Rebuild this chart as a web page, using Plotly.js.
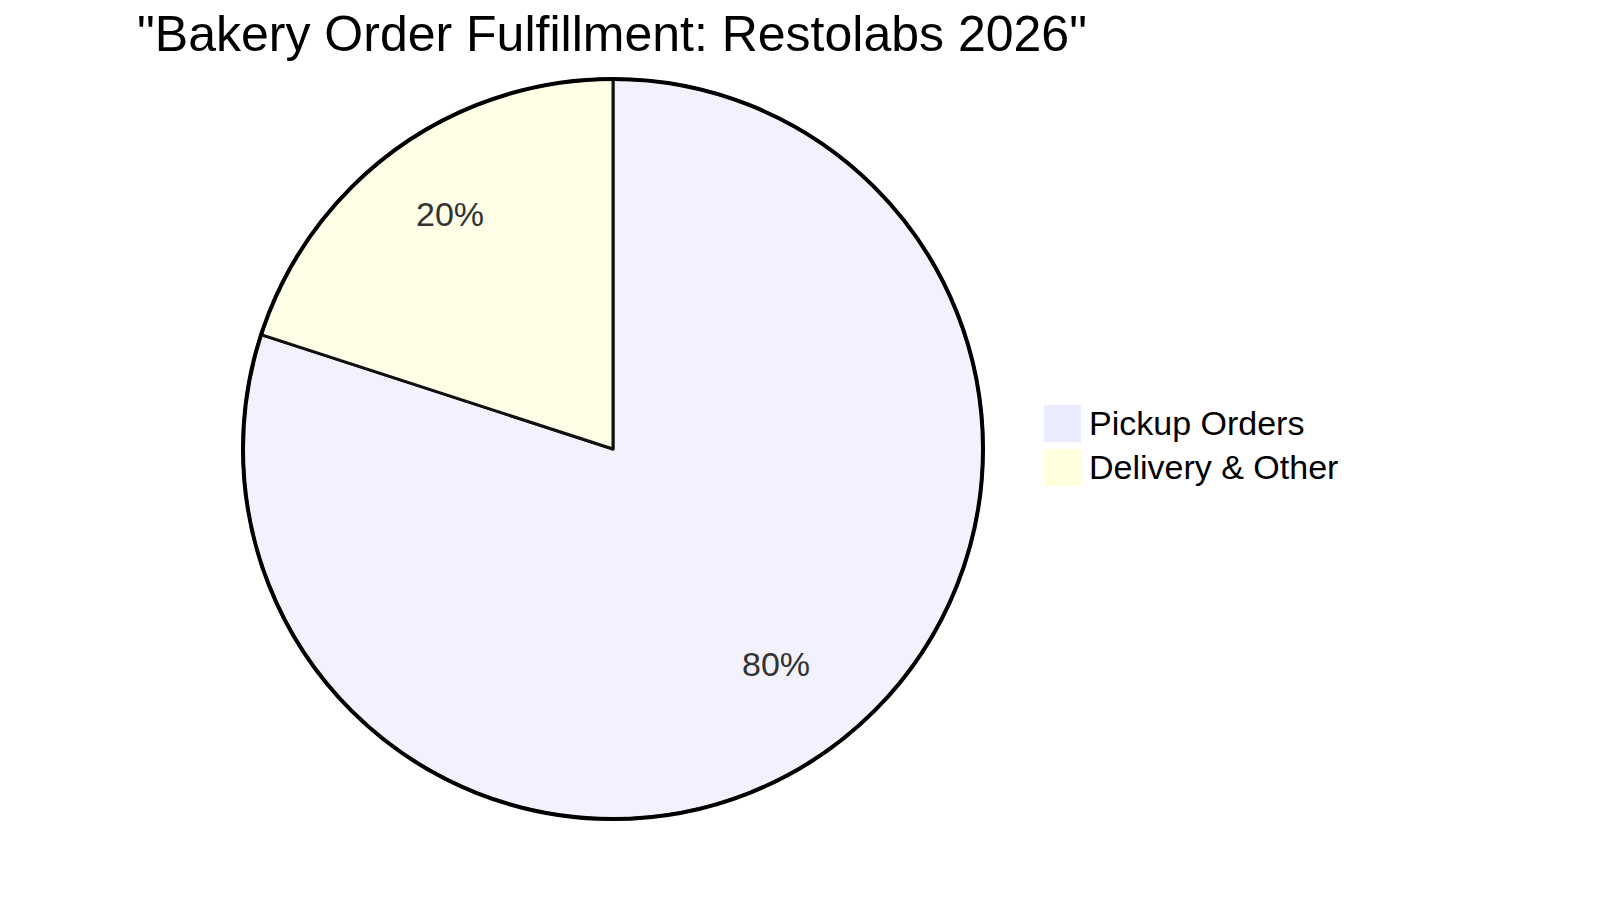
<!DOCTYPE html>
<html>
<head>
<meta charset="utf-8">
<script src="https://cdn.plot.ly/plotly-3.0.1.min.js"></script>
<style>
  html, body { margin: 0; padding: 0; background: #ffffff; }
  #chart { width: 1600px; height: 900px; }
</style>
</head>
<body>
<div id="chart"></div>
<script>
'use strict';

/* ============================================================
   DATA
   ============================================================ */
var chartTitle   = '"Bakery Order Fulfillment: Restolabs 2026"';
var sliceLabels  = ['Pickup Orders', 'Delivery & Other'];
var sliceValues  = [80, 20];
var sliceColors  = ['#F2F2FF', '#FFFFE8'];   // slice fill (70% opacity look)
var legendColors = ['#ECECFF', '#FFFFDE'];   // legend swatches

/* ============================================================
   LAYOUT CONSTANTS (pixels on a 1600x900 page)
   ============================================================ */
var W = 1600, H = 900;
var CX = 613, CY = 449, R = 370;      // pie centre + radius
var FONT = '"Liberation Sans", Arial, sans-serif';

function px(x) { return x / W; }
function py(y) { return 1 - y / H; }

/* ============================================================
   PIE CHART
   ============================================================ */
function initPie() {
  var total = sliceValues.reduce(function (a, b) { return a + b; }, 0);

  /* percentage labels at 3/4 radius, clockwise from 12 o'clock */
  var annotations = [];
  var start = 0;
  sliceValues.forEach(function (v) {
    var mid = (start + v / 2) / total * 2 * Math.PI;
    start += v;
    var lx = CX + 0.75 * R * Math.sin(mid);
    var ly = CY - 0.75 * R * Math.cos(mid);
    annotations.push({
      xref: 'paper', yref: 'paper', x: px(lx), y: py(ly),
      xanchor: 'center', yanchor: 'middle', yshift: 10,
      text: Math.round(v / total * 100) + '%', showarrow: false,
      font: { family: FONT, size: 34, color: '#333333' }
    });
  });

  /* custom legend: big square swatches + text */
  var shapes = [];
  sliceLabels.forEach(function (lab, i) {
    var top = 405 + 44 * i;
    shapes.push({
      type: 'rect', xref: 'paper', yref: 'paper',
      x0: px(1044), x1: px(1081), y0: py(top), y1: py(top + 37),
      fillcolor: legendColors[i], line: { width: 0 }
    });
    annotations.push({
      xref: 'paper', yref: 'paper', x: px(1087), y: py(top + 17.5),
      xanchor: 'left', yanchor: 'middle', text: lab, showarrow: false,
      font: { family: FONT, size: 34, color: '#000000' }
    });
  });

  /* heavier outer ring */
  shapes.push({
    type: 'circle', xref: 'paper', yref: 'paper',
    x0: px(CX - R), x1: px(CX + R), y0: py(CY + R), y1: py(CY - R),
    line: { color: '#000000', width: 4 }, fillcolor: 'rgba(0,0,0,0)'
  });

  Plotly.newPlot('chart', [{
    type: 'pie',
    labels: sliceLabels,
    values: sliceValues,
    sort: false,
    direction: 'clockwise',
    rotation: 0,
    textinfo: 'none',
    hoverinfo: 'label+percent',
    marker: { colors: sliceColors, line: { color: '#111111', width: 3 } },
    domain: { x: [px(CX - R), px(CX + R)], y: [py(CY + R), py(CY - R)] },
    showlegend: false
  }], {
    width: W, height: H,
    margin: { t: 0, r: 0, b: 0, l: 0 },
    paper_bgcolor: '#ffffff', plot_bgcolor: '#ffffff',
    title: {
      text: chartTitle,
      font: { family: FONT, size: 50, color: '#000000' },
      xref: 'paper', yref: 'paper', x: px(612), y: py(33),
      xanchor: 'center', yanchor: 'middle'
    },
    annotations: annotations,
    shapes: shapes,
    showlegend: false
  }, { displayModeBar: false });
}

document.addEventListener('DOMContentLoaded', initPie);
</script>
</body>
</html>
